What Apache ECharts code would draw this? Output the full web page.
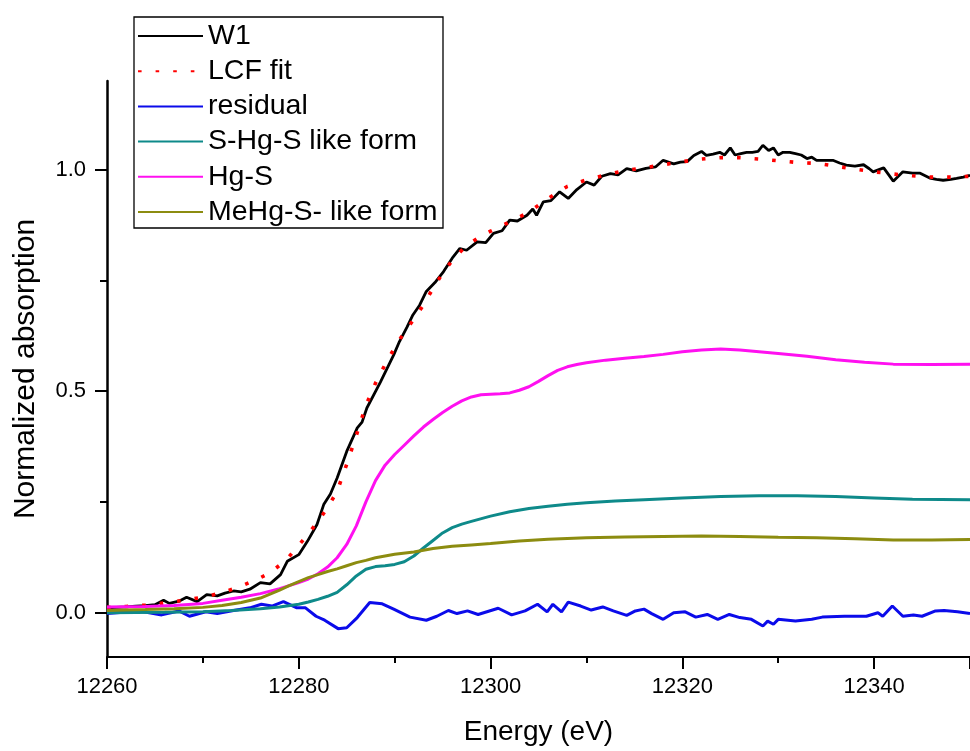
<!DOCTYPE html>
<html>
<head>
<meta charset="utf-8">
<script src="https://cdn.jsdelivr.net/npm/echarts@6/dist/echarts.min.js"></script>
<style>
  html, body { margin: 0; padding: 0; background: #ffffff; }
  #chart { width: 970px; height: 751px; }
</style>
</head>
<body>
<div id="chart"></div>
<script>
// Hg L3-edge XANES of sample W1 with its linear combination fit and components
const seriesNames = ['W1', 'LCF fit', 'residual', 'S-Hg-S like form', 'Hg-S', 'MeHg-S- like form'];

const xTicks = [12260, 12280, 12300, 12320, 12340];
const yTicks = [0.0, 0.5, 1.0];
const yMinorTicks = [0.25, 0.75];

const energyW1 = [12260, 12261, 12262, 12263, 12264, 12265, 12265.9, 12266.5, 12267.5, 12268.3, 12269.4, 12270.4, 12271.5, 12272.3, 12273.2, 12274, 12274.9, 12276, 12277, 12278.1, 12278.8, 12280, 12280.9, 12281.9, 12282.6, 12283.3, 12284, 12285, 12286.1, 12286.6, 12287.1, 12288.5, 12289.9, 12290.5, 12291.3, 12291.9, 12292.6, 12293.3, 12294.2, 12295.1, 12296, 12296.8, 12297.5, 12298.6, 12299.5, 12300.3, 12301.2, 12302, 12302.8, 12303.8, 12304.4, 12304.8, 12305.5, 12306.3, 12307.2, 12308.1, 12309, 12310, 12310.8, 12311.6, 12312.5, 12313.3, 12314.2, 12315.2, 12316.2, 12317.2, 12318, 12319.1, 12319.8, 12320.5, 12321.2, 12322, 12322.5, 12323.2, 12323.9, 12324.4, 12325, 12325.5, 12326.1, 12326.7, 12327.3, 12327.9, 12328.4, 12329, 12329.5, 12330, 12330.5, 12331.2, 12331.8, 12332.4, 12333, 12333.5, 12334, 12335, 12335.7, 12336.4, 12337.1, 12338, 12338.9, 12339.5, 12339.9, 12340.5, 12341, 12342, 12343, 12344, 12344.8, 12345.8, 12346.5, 12347.2, 12348, 12348.6, 12349.3, 12350];
const absW1 = [0.011, 0.012, 0.013, 0.015, 0.016, 0.018, 0.028, 0.021, 0.026, 0.035, 0.025, 0.041, 0.038, 0.044, 0.049, 0.047, 0.053, 0.068, 0.065, 0.086, 0.116, 0.131, 0.161, 0.199, 0.244, 0.268, 0.304, 0.364, 0.417, 0.430, 0.462, 0.520, 0.582, 0.612, 0.645, 0.672, 0.694, 0.725, 0.745, 0.770, 0.800, 0.822, 0.818, 0.837, 0.835, 0.856, 0.862, 0.886, 0.884, 0.897, 0.911, 0.897, 0.927, 0.930, 0.950, 0.935, 0.955, 0.972, 0.965, 0.985, 0.991, 0.988, 1.002, 0.997, 1.003, 1.006, 1.021, 1.013, 1.017, 1.018, 1.032, 1.041, 1.032, 1.035, 1.039, 1.033, 1.049, 1.033, 1.036, 1.039, 1.039, 1.041, 1.055, 1.043, 1.049, 1.033, 1.039, 1.039, 1.036, 1.033, 1.025, 1.028, 1.021, 1.021, 1.021, 1.015, 1.010, 1.008, 1.011, 1.002, 0.995, 1.000, 1.004, 0.974, 0.995, 0.992, 0.992, 0.981, 0.978, 0.976, 0.978, 0.980, 0.983, 0.987];

const energyFit = [12260, 12262, 12264, 12266, 12268, 12270, 12272, 12274, 12276, 12277, 12278, 12279, 12280, 12281, 12282, 12283, 12284, 12285, 12286, 12287, 12288, 12289, 12290, 12291, 12292, 12293, 12294, 12295, 12296, 12297, 12298, 12299, 12300, 12302, 12304, 12306, 12308, 12310, 12312, 12314, 12316, 12318, 12320, 12322, 12324, 12326, 12328, 12330, 12332, 12334, 12336, 12338, 12340, 12342, 12344, 12346, 12348, 12350];
const absFit = [0.012, 0.014, 0.017, 0.022, 0.028, 0.035, 0.045, 0.060, 0.079, 0.090, 0.107, 0.127, 0.152, 0.178, 0.206, 0.237, 0.274, 0.335, 0.400, 0.468, 0.518, 0.560, 0.598, 0.633, 0.662, 0.695, 0.732, 0.766, 0.795, 0.818, 0.836, 0.850, 0.861, 0.882, 0.904, 0.935, 0.962, 0.977, 0.988, 0.998, 1.004, 1.011, 1.018, 1.024, 1.027, 1.027, 1.024, 1.020, 1.016, 1.014, 1.008, 1.001, 0.995, 0.990, 0.986, 0.983, 0.983, 0.985];

const energyResidual = [12260, 12263.4, 12265.7, 12267.5, 12268.6, 12270.3, 12271.5, 12273.2, 12274.9, 12276.1, 12277.2, 12278.4, 12279.8, 12280.7, 12281.8, 12282.7, 12284.1, 12285, 12286.1, 12287.4, 12288.7, 12289.9, 12291.6, 12293.3, 12294.4, 12295.6, 12296.5, 12297.6, 12298.7, 12300.8, 12302.2, 12303.6, 12304.9, 12305.9, 12306.5, 12307.4, 12308.1, 12309.4, 12310.5, 12311.7, 12312.8, 12314.2, 12315.1, 12316, 12316.8, 12318, 12319.1, 12320.3, 12321.4, 12322.6, 12323.7, 12324.9, 12326, 12327.2, 12328.4, 12328.9, 12329.5, 12330, 12331.8, 12333.5, 12334.6, 12336.9, 12339.2, 12340.4, 12340.9, 12341.9, 12343, 12344.1, 12345, 12346.4, 12347.3, 12348.7, 12350];
const absResidual = [-0.002, 0.004, -0.005, 0.004, -0.008, 0.002, -0.002, 0.005, 0.011, 0.019, 0.015, 0.025, 0.011, 0.011, -0.008, -0.017, -0.036, -0.034, -0.011, 0.023, 0.020, 0.008, -0.010, -0.017, -0.008, 0.005, -0.002, 0.004, -0.004, 0.010, -0.005, 0.004, 0.019, 0.002, 0.019, 0.002, 0.024, 0.015, 0.006, 0.013, 0.004, -0.006, 0.004, 0.008, -0.002, -0.015, 0.000, 0.002, -0.010, -0.004, -0.015, -0.004, -0.011, -0.015, -0.030, -0.019, -0.026, -0.015, -0.019, -0.015, -0.010, -0.008, -0.008, 0.000, -0.008, 0.015, -0.008, -0.005, -0.008, 0.004, 0.005, 0.002, -0.002];

const energySHgS = [12260, 12266, 12270, 12273, 12276, 12278, 12280, 12281, 12282, 12283, 12284, 12285, 12286, 12287, 12288, 12289, 12290, 12291, 12292, 12293, 12294, 12295, 12296, 12297, 12298, 12300, 12302, 12304, 12306, 12308, 12310, 12313, 12316, 12320, 12324, 12328, 12332, 12336, 12340, 12344, 12350];
const absSHgS = [0.000, 0.001, 0.002, 0.005, 0.009, 0.013, 0.019, 0.024, 0.030, 0.037, 0.046, 0.063, 0.083, 0.098, 0.104, 0.106, 0.109, 0.115, 0.128, 0.146, 0.163, 0.180, 0.192, 0.200, 0.206, 0.218, 0.228, 0.235, 0.240, 0.245, 0.248, 0.252, 0.255, 0.259, 0.262, 0.264, 0.264, 0.262, 0.259, 0.256, 0.255];

const energyHgS = [12260, 12264, 12267, 12270, 12272, 12274, 12276, 12278, 12279, 12280, 12281, 12282, 12283, 12284, 12285, 12286, 12287, 12288, 12289, 12290, 12291, 12292, 12293, 12294, 12295, 12296, 12297, 12298, 12299, 12300, 12301, 12302, 12303, 12304, 12305, 12306, 12307, 12308, 12309, 12310, 12312, 12314, 12316, 12318, 12320, 12322, 12324, 12326, 12328, 12330, 12333, 12336, 12339, 12342, 12346, 12350];
const absHgS = [0.013, 0.014, 0.016, 0.021, 0.028, 0.035, 0.043, 0.054, 0.061, 0.068, 0.076, 0.088, 0.103, 0.124, 0.154, 0.196, 0.250, 0.298, 0.333, 0.357, 0.378, 0.399, 0.419, 0.436, 0.452, 0.466, 0.478, 0.487, 0.492, 0.493, 0.494, 0.496, 0.502, 0.510, 0.522, 0.535, 0.547, 0.555, 0.560, 0.564, 0.570, 0.574, 0.578, 0.583, 0.589, 0.593, 0.595, 0.593, 0.589, 0.585, 0.579, 0.571, 0.565, 0.561, 0.560, 0.561];

const energyMeHgS = [12260, 12264, 12267, 12270, 12272, 12274, 12276, 12277, 12278, 12279, 12280, 12281, 12282, 12283, 12284, 12285, 12286, 12287, 12288, 12289, 12290, 12292, 12294, 12296, 12298, 12300, 12303, 12306, 12310, 12314, 12318, 12322, 12326, 12330, 12334, 12338, 12342, 12346, 12350];
const absMeHgS = [0.005, 0.007, 0.009, 0.012, 0.016, 0.023, 0.033, 0.042, 0.051, 0.061, 0.070, 0.079, 0.086, 0.093, 0.099, 0.106, 0.113, 0.118, 0.124, 0.128, 0.132, 0.137, 0.145, 0.150, 0.153, 0.156, 0.162, 0.166, 0.169, 0.171, 0.172, 0.173, 0.172, 0.170, 0.169, 0.167, 0.164, 0.164, 0.165];

const FONT = '"Liberation Sans", Arial, sans-serif';

function pairs(xs, ys) {
  return xs.map(function (x, i) { return [x, ys[i]]; });
}

function lineSeries(name, xs, ys, color, lineStyleExtra) {
  return {
    name: name,
    type: 'line',
    data: pairs(xs, ys),
    symbol: 'none',
    smooth: false,
    clip: true,
    animation: false,
    lineStyle: Object.assign({ color: color, width: 3 }, lineStyleExtra || {}),
    itemStyle: { color: color }
  };
}

const chart = echarts.init(document.getElementById('chart'), null, { renderer: 'canvas' });

chart.setOption({
  backgroundColor: '#ffffff',
  animation: false,
  grid: { left: 107, right: 0, top: 81, bottom: 91, containLabel: false },
  xAxis: {
    type: 'value',
    min: 12260,
    max: 12350,
    interval: 20,
    name: 'Energy (eV)',
    nameLocation: 'middle',
    nameGap: 61,
    nameTextStyle: { fontFamily: FONT, fontSize: 28, color: '#000' },
    axisLine: { show: true, onZero: false, lineStyle: { color: '#000', width: 2 } },
    axisTick: { show: true, inside: false, length: 12, lineStyle: { color: '#000', width: 2 } },
    minorTick: { show: true, splitNumber: 2, length: 6, lineStyle: { color: '#000', width: 2 } },
    axisLabel: {
      fontFamily: FONT, fontSize: 22, color: '#000', margin: 19,
      customValues: xTicks,
      formatter: function (v) { return String(v); }
    },
    splitLine: { show: false },
    minorSplitLine: { show: false }
  },
  yAxis: [
    {
      type: 'value',
      min: -0.1,
      max: 1.2,
      name: 'Normalized absorption',
      nameLocation: 'middle',
      nameGap: 66,
      nameTextStyle: { fontFamily: FONT, fontSize: 30, color: '#000' },
      axisLine: { show: true, onZero: false, lineStyle: { color: '#000', width: 2.5 } },
      axisTick: { show: true, inside: false, length: 12, customValues: yTicks, lineStyle: { color: '#000', width: 2 } },
      axisLabel: {
        fontFamily: FONT, fontSize: 22, color: '#000', margin: 21,
        customValues: yTicks,
        formatter: function (v) { return v.toFixed(1); }
      },
      splitLine: { show: false }
    },
    {
      // short ticks half way between the labelled ones
      type: 'value',
      min: -0.1,
      max: 1.2,
      position: 'left',
      offset: 0,
      axisLine: { show: false, onZero: false },
      axisTick: { show: true, inside: false, length: 7, customValues: yMinorTicks, lineStyle: { color: '#000', width: 2 } },
      axisLabel: { show: false },
      splitLine: { show: false }
    }
  ],
  legend: {
    orient: 'vertical',
    left: 134,
    top: 19,
    padding: [2, 2, 2, 3],
    itemWidth: 65,
    itemHeight: 14,
    itemGap: 5.2,
    itemTextGap: 8,
    itemStyle: { opacity: 0 },
    textStyle: { fontFamily: FONT, fontSize: 28.5, color: '#000', lineHeight: 30 },
    data: seriesNames,
    selectedMode: false
  },
  graphic: [
    {
      type: 'rect',
      shape: { x: 134, y: 17, width: 309, height: 211 },
      style: { fill: null, stroke: '#000', lineWidth: 1.3 },
      z: 100
    }
  ],
  series: [
    lineSeries(seriesNames[0], energyW1, absW1, '#000000', { width: 2.8 }),
    lineSeries(seriesNames[1], energyFit, absFit, '#ff0000', { width: 3.6, type: [3.6, 14], cap: 'butt' }),
    lineSeries(seriesNames[2], energyResidual, absResidual, '#0b0bea', { width: 3 }),
    lineSeries(seriesNames[3], energySHgS, absSHgS, '#0e8a8a', { width: 3 }),
    lineSeries(seriesNames[4], energyHgS, absHgS, '#ff10f0', { width: 3 }),
    lineSeries(seriesNames[5], energyMeHgS, absMeHgS, '#8c8c10', { width: 3 })
  ]
});
</script>
</body>
</html>
